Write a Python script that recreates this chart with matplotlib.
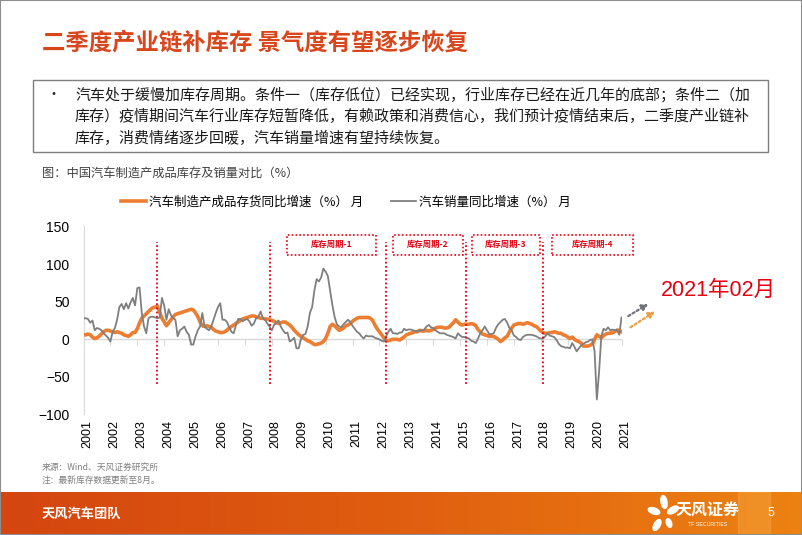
import numpy as np
import matplotlib
matplotlib.use('Agg')
import matplotlib.pyplot as plt
import matplotlib.transforms as mtransforms
from matplotlib.patches import Rectangle, Ellipse
from matplotlib.lines import Line2D
from matplotlib.colors import LinearSegmentedColormap

plt.rcParams['font.family'] = ['Noto Sans CJK SC', 'DejaVu Sans']
NUM_FONT = ['Liberation Sans', 'Noto Sans CJK SC']

# ---------------- 数据（月度，2001-01 起） ----------------
years = list(range(2001, 2022))

# 汽车制造产成品存货同比增速（%）
inventory_yoy = [
    6, 6, 7, 6, 3, 1, 2, 4, 7, 10, 12, 12,          # 2001
    11, 10, 9, 10, 9, 8, 6, 5, 4, 6, 9, 9,          # 2002
    14, 22, 28, 31, 34, 37, 40, 42, 43, 44, 36, 28,  # 2003
    23, 18, 22, 26, 30, 33, 34, 35, 36, 37, 38, 39,  # 2004
    40, 39, 35, 30, 23, 18, 17, 18, 17, 16, 13, 11,  # 2005
    10, 9, 9, 10, 12, 15, 17, 19, 21, 23, 25, 27,    # 2006
    28, 29, 30, 31, 31, 30, 29, 28, 28, 27, 27, 26,  # 2007
    25, 24, 22, 21, 22, 23, 23, 21, 19, 16, 12, 9,   # 2008
    6, 4, 2, 0, -2, -3, -5, -7, -7, -6, -5, -3,      # 2009
    1, 8, 17, 20, 18, 15, 12, 13, 15, 18, 19, 21,    # 2010
    24, 26, 28, 29, 29, 29, 29, 29, 28, 25, 19, 14,  # 2011
    10, 6, 2, -2, -2, -1, 0, 0, 0, -1, 1, 3,         # 2012
    6, 7, 8, 9, 10, 10, 12, 11, 11, 12, 11, 12,      # 2013
    13, 15, 16, 16, 16, 15, 15, 16, 19, 22, 26, 23,  # 2014
    20, 19, 20, 20, 20, 21, 20, 18, 13, 10, 7, 6,    # 2015
    5, 4, 4, 4, 2, 0, -3, -1, 2, 4, 10, 15,          # 2016
    19, 20, 21, 21, 20, 21, 22, 21, 20, 18, 17, 14,  # 2017
    11, 9, 8, 8, 9, 9, 10, 9, 8, 8, 6, 5,            # 2018
    3, 1, 3, 0, -2, -3, -5, -9, -9, -9, -8, -6,      # 2019
    0, 6, 4, 2, 5, 7, 8, 8, 9, 10, 12, 12,           # 2020
    10,                                              # 2021
]

# 汽车销量同比增速（%）
sales_yoy = [
    28, 28, 27, 22, 25, 12, 15, 14, 12, 8, 5, 2,     # 2001
    -3, 10, 15, 26, 43, 47, 40, 48, 41, 49, 55, 45,  # 2002
    68, 69, 35, 17, 8, 28, 30, 30, 29, 28, 29, 55,   # 2003
    45, 26, 40, 32, 28, 26, 4, 12, 14, 17, 10, 6,    # 2004
    -7, -7, 4, 12, 17, 35, 17, 14, 12, 17, 26, 35,   # 2005
    43, 48, 26, 26, 23, 16, 10, 8, 19, 27, 27, 24,   # 2006
    26, 27, 24, 18, 21, 28, 30, 37, 28, 26, 21, 17,  # 2007
    12, 19, 22, 25, 17, 12, 8, 9, -3, -1, 2, -12,    # 2008
    -12, 0, 6, 7, 17, 35, 43, 65, 80, 77, 82, 94,    # 2009
    90, 84, 65, 46, 30, 20, 17, 16, 20, 23, 26, 23,  # 2010
    18, 14, 10, 8, 4, 1, 5, 4, 4, 4, 2, 1,           # 2011
    0, -2, -3, 4, 10, 14, 8, 8, 7, 9, 9, 14,         # 2012
    12, 13, 13, 12, 11, 10, 12, 12, 13, 17, 19, 16,  # 2013
    15, 12, 10, 8, 8, 8, 6, 5, 4, 3, 1, 8,           # 2014
    5, 3, 3, 2, 1, -2, -3, -5, 1, 8, 12, 17,         # 2015
    12, 7, 7, 8, 15, 20, 23, 26, 27, 22, 15, 12,     # 2016
    5, 3, 0, -1, 3, 5, 6, 6, 6, 5, 4, 2,             # 2017
    1, 1, 4, 8, 5, 4, 3, -1, -6, -9, -10, -11,       # 2018
    -11, -12, -5, -10, -16, -12, -8, -6, -4, -3, -1, 0,  # 2019
    -16, -80, -43, 4, 14, 12, 16, 12, 13, 12, 13, 6,     # 2020
    29,                                                  # 2021
]

# 库存周期分界（月序号）
cycle_marks = [33, 83, 135, 170.5, 205]
cycle_names = ['库存周期-1', '库存周期-2', '库存周期-3', '库存周期-4']

ORANGE = '#ED7D31'
GRAY = '#7F7F7F'
RED = '#E60012'

W, H = 802, 535
fig = plt.figure(figsize=(W / 100, H / 100), dpi=100)
fig.patch.set_facecolor('white')

def fx(px):
    return px / W

def fy(py):
    return 1 - py / H

# ---------------- 标题和文字框 ----------------
fig.text(fx(42), fy(43), '二季度产业链补库存 景气度有望逐步恢复', fontsize=16.8,
         fontweight='bold', color='#DA461C', ha='left', va='center')

fig.patches.append(Rectangle((fx(33), fy(152)), fx(768) - fx(33), fy(80) - fy(152),
                             transform=fig.transFigure, fill=False,
                             edgecolor='#7F7F7F', lw=1))
fig.text(fx(47), fy(95), '•', fontsize=10, color='#222222', va='center')
lines = ['汽车处于缓慢加库存周期。条件一（库存低位）已经实现，行业库存已经在近几年的底部；条件二（加',
         '库存）疫情期间汽车行业库存短暂降低，有赖政策和消费信心，我们预计疫情结束后，二季度产业链补',
         '库存，消费情绪逐步回暖，汽车销量增速有望持续恢复。']
for i, t in enumerate(lines):
    fig.text(fx(75), fy(95 + i * 21.5), t, fontsize=10.8, color='#1A1A1A', va='center')

fig.text(fx(42), fy(173), '图：中国汽车制造产成品库存及销量对比（%）', fontsize=8.8,
         color='#404040', va='center')

# ---------------- 主图 ----------------
ax = fig.add_axes([fx(83.5), fy(414.5), fx(621.5) - fx(83.5), fy(226.5) - fy(414.5)])
x_inv = np.arange(len(inventory_yoy))
x_sales = np.arange(len(sales_yoy))

ax.axhline(0, color='#D9D9D9', lw=1, zorder=1)
ax.plot(x_inv, inventory_yoy, color=ORANGE, lw=2.6, zorder=3, solid_joinstyle='round')
ax.plot(x_sales, sales_yoy, color=GRAY, lw=1.3, zorder=4)

ax.set_xlim(0, 240)
ax.set_ylim(-100, 150)
ax.set_yticks([-100, -50, 0, 50, 100, 150])
ax.set_xticks([12 * (y - 2001) for y in years])
ax.set_xticklabels([str(y) for y in years], rotation=90, fontsize=9, family=NUM_FONT)
for lab in ax.get_yticklabels():
    lab.set_family(NUM_FONT)
    lab.set_fontsize(10)
ax.tick_params(axis='x', length=0, pad=4)
ax.tick_params(axis='y', length=0, pad=10)
offset = mtransforms.ScaledTranslation(0.04, 0, fig.dpi_scale_trans)
for lab in ax.get_xticklabels():
    lab.set_transform(lab.get_transform() + offset)
for s in ['top', 'right', 'bottom']:
    ax.spines[s].set_visible(False)
ax.spines['left'].set_color('#D9D9D9')

sec = ax.secondary_xaxis(0.4)
sec.set_xticks([12 * (y - 2001) for y in years])
sec.tick_params(axis='x', length=4, color='#D9D9D9', labelbottom=False, labeltop=False)
for s in sec.spines.values():
    s.set_visible(False)

# 库存周期分界线
ax.vlines(cycle_marks, -60, 130, colors=RED, linestyles=(0, (1, 1.3)), lw=1.3, zorder=5)

box_spans = [(90.6, 130.6), (137.9, 169.2), (173.2, 203.6), (208.8, 245.2)]
for (l, r), name in zip(box_spans, cycle_names):
    ax.add_patch(Rectangle((l, 112), r - l, 27, fill=False, edgecolor=RED, lw=1.2,
                           linestyle=(0, (1, 1.3)), clip_on=False, zorder=5))
    ax.text((l + r) / 2, 125.5, name, fontsize=6, color=RED, fontweight='bold',
            ha='center', va='center', clip_on=False)

# 趋势箭头
xl = len(sales_yoy) - 1
ax.annotate('', xy=(xl + 13, sales_yoy[-1] + 20), xytext=(xl + 2, sales_yoy[-1]),
            arrowprops=dict(arrowstyle='-|>', color='#6E7079', lw=1.6,
                            linestyle=(0, (1, 1.2)), mutation_scale=9),
            annotation_clip=False)
xo = len(inventory_yoy) - 1
ax.annotate('', xy=(xo + 16, inventory_yoy[-1] + 29), xytext=(xo + 3, inventory_yoy[-1] + 4),
            arrowprops=dict(arrowstyle='-|>', color='#F09A45', lw=1.6,
                            linestyle=(0, (1, 1.2)), mutation_scale=9),
            annotation_clip=False)

fig.text(fx(718), fy(290), '2021年02月', fontsize=15.5, color=RED, ha='center',
         va='center', family=NUM_FONT)

# 图例
handles = [Line2D([], [], color=ORANGE, lw=2.6), Line2D([], [], color=GRAY, lw=1.3)]
labels = ['汽车制造产成品存货同比增速（%） 月', '汽车销量同比增速（%） 月']
fig.legend(handles, labels, loc='center', bbox_to_anchor=(fx(346), fy(202)), ncol=2,
           frameon=False, fontsize=9, handlelength=2.0, handletextpad=0.25,
           columnspacing=2.2)

# 来源
fig.text(fx(42), fy(467), '来源：Wind、天风证券研究所', fontsize=6.3, color='#7F7F7F', va='center')
fig.text(fx(42), fy(480), '注：最新库存数据更新至8月。', fontsize=6.3, color='#7F7F7F', va='center')

# ---------------- 页脚 ----------------
band = fig.add_axes([0, 0, 1, 43 / H])
cmap = LinearSegmentedColormap.from_list('band', ['#D4450F', '#E05E10', '#EC8212'])
band.imshow(np.linspace(0, 1, 256)[None, :], aspect='auto', cmap=cmap,
            extent=[0, W, 0, 43])
band.add_patch(Rectangle((738, 0), 32, 43, color='#F6A640', alpha=0.45))
band.set_xlim(0, W)
band.set_ylim(0, 43)
band.set_axis_off()
band.text(42, 21, '天风汽车团队', fontsize=9.5, fontweight='bold', color='white', va='center')
for (cx, cy, w, h, a) in [(664, 33, 6, 13, 10), (654, 24, 12, 6, -20),
                          (673, 25, 12, 6, 30), (657, 10, 6, 12, -30), (669, 12, 5, 9, 20)]:
    band.add_patch(Ellipse((cx, cy), w, h, angle=a, color='white'))
band.text(708, 25, '天风证券', fontsize=11.5, fontweight='bold', color='white',
          ha='center', va='center')
band.text(708, 11, 'TF SECURITIES', fontsize=3.8, color='white', ha='center',
          va='center', family=NUM_FONT)
band.text(771, 22, '5', fontsize=9, color='white', ha='center', va='center', family=NUM_FONT)

fig.patches.append(Rectangle((0, 0), 1, 1, transform=fig.transFigure, fill=False,
                             edgecolor='#8C8C8C', lw=1.5))

fig.savefig('out.png', dpi=100)
